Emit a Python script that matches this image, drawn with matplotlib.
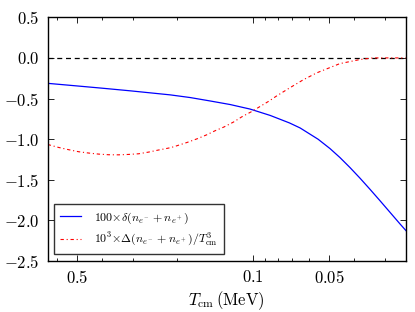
import matplotlib
matplotlib.use("Agg")
import matplotlib.pyplot as plt
from matplotlib.ticker import FixedLocator, LogLocator, NullFormatter, FixedFormatter

plt.rcParams['mathtext.fontset'] = 'cm'
plt.rcParams['font.family'] = 'serif'
plt.rcParams['font.serif'] = ['cmr10', 'DejaVu Serif']
plt.rcParams['axes.unicode_minus'] = True

# Data
T_blue = [0.654, 0.5, 0.4, 0.308, 0.2136, 0.178, 0.1484, 0.1236, 0.103, 0.0858,
          0.072, 0.0653, 0.0554, 0.0497, 0.0454, 0.0414, 0.0378, 0.0345, 0.0315,
          0.02875, 0.02624, 0.02484]
y_blue = [-0.313, -0.345, -0.372, -0.405, -0.455, -0.488, -0.530, -0.574, -0.630, -0.708,
          -0.800, -0.862, -1.001, -1.116, -1.226, -1.350, -1.480, -1.617, -1.757,
          -1.900, -2.043, -2.126]

T_red = [0.654, 0.648, 0.592, 0.540, 0.493, 0.450, 0.411, 0.375, 0.342, 0.312, 0.285,
         0.260, 0.238, 0.217, 0.207, 0.183, 0.167, 0.153, 0.142, 0.131, 0.120,
         0.111, 0.1014, 0.094, 0.0872, 0.0807, 0.0749, 0.072, 0.0635, 0.0561,
         0.0454, 0.0378, 0.0336, 0.0249]
y_red = [-1.066, -1.069, -1.102, -1.130, -1.155, -1.171, -1.184, -1.192, -1.193, -1.188,
         -1.180, -1.159, -1.134, -1.110, -1.094, -1.040, -0.995, -0.946, -0.897,
         -0.851, -0.790, -0.724, -0.659, -0.597, -0.536, -0.466, -0.404, -0.371,
         -0.270, -0.184, -0.070, -0.020, 0.0, 0.0]

xticks = [0.5, 0.1, 0.05]
xticklabels = ['$0.5$', '$0.1$', '$0.05$']
yticks = [0.5, 0.0, -0.5, -1.0, -1.5, -2.0, -2.5]
yticklabels = ['$0.5$', '$0.0$', '$-0.5$', '$-1.0$', '$-1.5$', '$-2.0$', '$-2.5$']

label_blue = r'$100{\times}\delta(n_{e^-}+n_{e^+})$'
label_red = r'$10^3{\times}\Delta(n_{e^-}+n_{e^+})/T_{\rm cm}^3$'

fig = plt.figure(figsize=(4.15, 3.12), dpi=100)
ax = fig.add_axes([47.7/415, 1 - 261/312, (405.7-47.7)/415, (261-17.3)/312])

ax.axhline(0.0, color='black', lw=0.9, linestyle=(0, (4, 3)))
ax.plot(T_blue, y_blue, color='blue', lw=0.9, label=label_blue)
ax.plot(T_red, y_red, color='red', lw=0.8, linestyle=(0, (3, 2.5, 1, 2.5)), label=label_red)

ax.set_xscale('log')
ax.set_xlim(0.654, 0.0249)
ax.set_ylim(-2.5, 0.5)

ax.xaxis.set_major_locator(FixedLocator(xticks))
ax.xaxis.set_major_formatter(FixedFormatter(xticklabels))
ax.xaxis.set_minor_locator(LogLocator(base=10, subs=range(2, 10)))
ax.xaxis.set_minor_formatter(NullFormatter())
ax.set_yticks(yticks)
ax.set_yticklabels(yticklabels)

ax.tick_params(which='both', direction='in', top=True, right=True, labelsize=12, pad=6)
ax.tick_params(which='major', length=4.3, width=0.6)
ax.tick_params(which='minor', length=2.4, width=0.6)
for s in ax.spines.values():
    s.set_linewidth(1.0)

ax.set_xlabel(r'$T_{\rm cm}\,(\mathrm{MeV})$', fontsize=12, labelpad=2)

leg = ax.legend(loc='lower left', fontsize=8.6, frameon=True, fancybox=False,
                borderaxespad=0.55, handlelength=1.75, handletextpad=1.1,
                labelspacing=0.45, borderpad=0.5)
leg.get_frame().set_edgecolor('black')
leg.get_frame().set_linewidth(1.0)

fig.savefig('out.png', dpi=100)
